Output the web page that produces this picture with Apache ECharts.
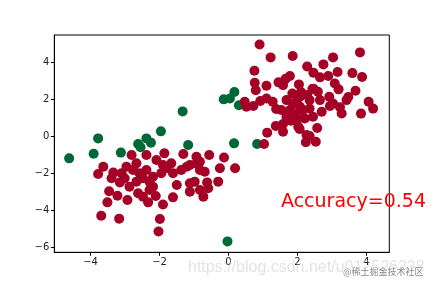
<!DOCTYPE html>
<html><head><meta charset="utf-8">
<script src="https://cdn.jsdelivr.net/npm/echarts@6/dist/echarts.min.js"></script>
<style>html,body{margin:0;padding:0;background:#fff}#c{width:432px;height:288px}</style>
</head><body><div id="c"></div>
<script>
const xTicks = [-4, -2, 0, 2, 4];
const yTicks = [-6, -4, -2, 0, 2, 4];
const redPoints = [
[0.90,4.97],[1.22,4.27],[1.86,4.34],[3.03,4.27],[3.81,4.54],[0.75,3.55],[2.28,3.78],[2.75,3.89],
[2.46,3.44],[3.16,3.48],[3.59,3.42],[3.87,3.21],[0.76,2.90],[0.79,2.49],[1.10,2.74],[1.45,2.92],
[1.66,3.12],[1.78,3.26],[1.58,2.77],[2.04,2.81],[2.65,3.19],[2.89,3.26],[2.43,2.56],[3.08,2.86],
[3.19,2.54],[3.47,2.13],[3.68,2.47],[0.47,1.87],[0.52,1.60],[0.72,1.64],[0.92,1.91],[1.10,2.05],
[1.28,1.87],[1.38,1.48],[1.68,1.96],[1.85,2.32],[2.00,2.04],[2.10,2.40],[2.28,2.23],[2.46,2.58],
[2.65,1.96],[2.92,2.14],[3.03,1.78],[3.23,1.57],[3.28,1.24],[3.84,1.23],[4.06,1.87],[4.19,1.50],
[3.42,1.96],[1.87,1.78],[2.07,1.60],[1.78,1.42],[1.92,1.24],[2.16,1.42],[2.35,1.51],[2.02,0.97],
[1.81,0.85],[1.58,0.67],[1.37,0.56],[1.58,0.25],[1.12,0.20],[2.02,0.52],[2.06,0.40],[2.57,0.45],
[2.26,0.07],[2.35,0.02],[2.24,-0.32],[2.53,-0.29],[1.03,-0.41],[2.70,1.33],[2.94,1.64],[2.45,1.06],
[2.21,0.97],[1.68,1.06],[1.53,1.42],[2.07,2.14],[2.35,1.96],[2.59,2.41],
[-2.81,-1.01],[-2.38,-1.01],[-1.86,-0.92],[-1.31,-0.95],[-0.93,-1.10],[-0.56,-1.01],[-0.13,-1.14],
[0.19,-1.73],[-3.63,-1.64],[-3.78,-2.04],[-3.34,-1.96],[-3.39,-2.27],[-3.15,-2.50],[-3.46,-2.97],
[-3.51,-3.57],[-3.69,-4.29],[-3.17,-4.45],[-3.22,-3.21],[-2.93,-3.44],[-2.62,-3.08],[-2.33,-3.57],
[-2.11,-3.23],[-1.90,-3.69],[-1.99,-4.47],[-2.03,-5.15],[-2.96,-1.64],[-2.77,-1.82],[-2.67,-1.46],
[-2.58,-1.99],[-2.48,-2.27],[-2.38,-1.82],[-2.29,-2.45],[-2.19,-2.18],[-2.09,-1.28],[-1.90,-1.55],
[-1.95,-1.99],[-1.66,-1.46],[-1.61,-1.99],[-1.80,-1.73],[-1.37,-1.82],[-1.12,-1.55],[-0.93,-1.46],
[-0.83,-1.37],[-0.69,-1.91],[-0.62,-2.49],[-0.30,-2.45],[-0.25,-1.73],[-0.83,-2.90],[-0.73,-3.26],
[-0.59,-2.81],[-1.12,-2.99],[-0.98,-2.45],[-1.12,-2.54],[-1.50,-2.63],[-1.61,-3.30],[-2.67,-2.45],
[-2.87,-2.72],[-2.29,-2.90],[-2.19,-2.72],[-2.48,-3.26],[-1.21,-1.64],[-0.83,-1.82],[-3.10,-2.00],
[-3.01,-2.27]
];
const greenPoints = [
[-4.62,-1.19],[-3.91,-0.94],[-3.78,-0.11],[-3.12,-0.88],[-2.62,-0.41],[-2.55,-0.59],[-2.38,-0.11],
[-2.25,-0.34],[-1.96,0.27],[-1.33,1.35],[-1.17,-0.47],[-0.14,2.00],[0.04,2.05],[0.17,2.40],
[0.30,1.68],[0.16,-0.38],[0.83,-0.41],[-0.03,-5.68]
];
const accuracyText = 'Accuracy=0.54';

const fmt = v => String(v).replace('-', '\u2212');
const chart = echarts.init(document.getElementById('c'), null, {renderer: 'canvas'});
chart.setOption({
  animation: false,
  backgroundColor: '#fff',
  grid: {left: 54.3, right: 42.7, top: 35, bottom: 35.7, show: true, borderColor: '#000', borderWidth: 1, backgroundColor: 'transparent'},
  xAxis: {
    type: 'value', min: -5.05, max: 4.66,
    splitLine: {show: false},
    axisLine: {show: true, onZero: false, lineStyle: {color: '#000', width: 1}},
    axisTick: {show: true, inside: false, length: 3.5, lineStyle: {color: '#000'}, customValues: xTicks},
    axisLabel: {color: '#222', fontSize: 10, fontFamily: 'DejaVu Sans', margin: 5, customValues: xTicks, formatter: fmt}
  },
  yAxis: {
    type: 'value', min: -6.27, max: 5.48,
    splitLine: {show: false},
    axisLine: {show: true, onZero: false, lineStyle: {color: '#000', width: 1}},
    axisTick: {show: true, inside: false, length: 3.5, lineStyle: {color: '#000'}, customValues: yTicks},
    axisLabel: {color: '#222', fontSize: 10, fontFamily: 'DejaVu Sans', margin: 5, customValues: yTicks, formatter: fmt}
  },
  series: [
    {type: 'scatter', data: greenPoints, symbolSize: 10, itemStyle: {color: '#006837', opacity: 1}, z: 2},
    {type: 'scatter', data: redPoints, symbolSize: 10, itemStyle: {color: '#a50026', opacity: 1}, z: 2}
  ],
  graphic: [
    {type: 'text', left: 281, top: 193, z: 10, style: {text: accuracyText, fill: '#ff0000', font: '19px "DejaVu Sans"'}},
    {type: 'text', left: 188, top: 260, z: 11, style: {text: 'https://blog.csdn.net/u012526238', fill: 'rgba(200,200,200,0.5)', font: '16px "Liberation Sans"'}},
    {type: 'text', left: 342, top: 266, z: 12, style: {text: '@稀土掘金技术社区', fill: '#888', font: '9px "Noto Sans CJK SC"', stroke: 'rgba(255,255,255,0.8)', lineWidth: 2}}
  ]
});
</script></body></html>
